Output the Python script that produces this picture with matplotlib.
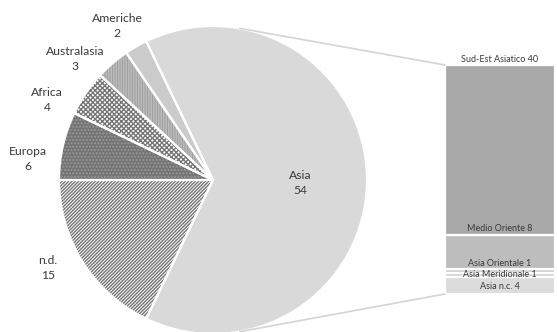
import numpy as np
import matplotlib.pyplot as plt
from matplotlib.patches import ConnectionPatch

plt.rcParams['font.family'] = ['Lato', 'DejaVu Sans']
plt.rcParams['hatch.linewidth'] = 1.0

# main pie
regions = ['Asia', 'n.d.', 'Europa', 'Africa', 'Australasia', 'Americhe']
counts = [54, 15, 6, 4, 3, 2]

# breakdown of Asia (bottom to top of the bar)
sub_regions = ['Asia n.c.', 'Asia Meridionale', 'Asia Orientale', 'Medio Oriente', 'Sud-Est Asiatico']
sub_counts = [4, 1, 1, 8, 40]

# styles
face = ['#d9d9d9', 'white', '#737373', 'white', 'white', '#cbcbcb']
hatch = [None, '//////////', '.....', 'xxxxxxx', '||||||||||', None]
hatch_col = ['#d9d9d9', '#747474', '#9a9a9a', '#767676', '#a0a0a0', '#cbcbcb']
sub_face = ['#dcdcdc', '#d4d4d4', '#cfcfcf', '#bdbdbd', '#a9a9a9']
txt = '#3a3a3a'

W, H = 557, 332
fig = plt.figure(figsize=(W / 100, H / 100), dpi=100)
ax = fig.add_axes([0, 0, 1, 1])
cx, cy, r = 213, H - 180, 154
start = 360 * counts[0] / sum(counts) / 2

wedges, _ = ax.pie(counts, startangle=start, counterclock=False,
                   center=(cx, cy), radius=r, colors=face,
                   wedgeprops=dict(linewidth=0))
for w, h, c in zip(wedges, hatch, hatch_col):
    if h:
        w.set_hatch(h)
        w.set_edgecolor(c)
# white borders on top
ax.pie(counts, startangle=start, counterclock=False, center=(cx, cy), radius=r,
       colors=['none'] * len(counts),
       wedgeprops=dict(linewidth=1.6, edgecolor='white', fill=False))

ax.set_xlim(0, W)
ax.set_ylim(0, H)
ax.set_aspect('equal')
ax.axis('off')

# label positions (pixels from top-left)
label_pos = [(300, 183), (48, 268), (28, 159), (47, 100), (75, 59), (117, 26)]
for name, n, (lx, ly) in zip(regions, counts, label_pos):
    ax.text(lx, H - ly, f'{name}\n{n}', ha='center', va='center',
            fontsize=8.7, color=txt, linespacing=1.35)

# bar of Asia
bx = fig.add_axes([445 / W, (H - 294) / H, 110 / W, 229 / H])
bottom = 0
for name, n, c in zip(sub_regions, sub_counts, sub_face):
    bx.bar(0, n, bottom=bottom, width=1, color=c, edgecolor='white', linewidth=1.6)
    bottom += n
bx.set_xlim(-0.5, 0.5)
bx.set_ylim(0, sum(sub_counts))
bx.axis('off')

cum = np.cumsum(sub_counts)
sub_lab = dict(fontsize=6.5, color=txt, ha='center', clip_on=False)
bx.text(0, cum[4] + 0.3, f'{sub_regions[4]} {sub_counts[4]}', va='bottom', **sub_lab)
bx.text(0, cum[3] + 0.3, f'{sub_regions[3]} {sub_counts[3]}', va='bottom', **sub_lab)
bx.text(0, cum[2] + 0.05, f'{sub_regions[2]} {sub_counts[2]}', va='bottom', **sub_lab)
bx.text(0, cum[1] - sub_counts[1] / 2, f'{sub_regions[1]} {sub_counts[1]}', va='center', **sub_lab)
bx.text(0, sub_counts[0] / 2 - 0.3, f'{sub_regions[0]} {sub_counts[0]}', va='center', **sub_lab)

# connector lines
for ang, yb in [(80, 1), (-80, 0)]:
    p = (cx + r * np.cos(np.radians(ang)), cy + r * np.sin(np.radians(ang)))
    con = ConnectionPatch(xyA=p, coordsA=ax.transData, xyB=(0, yb), coordsB=bx.transAxes,
                          color='#d4d4d4', linewidth=1.2)
    fig.add_artist(con)

fig.savefig('out.png', dpi=100)
